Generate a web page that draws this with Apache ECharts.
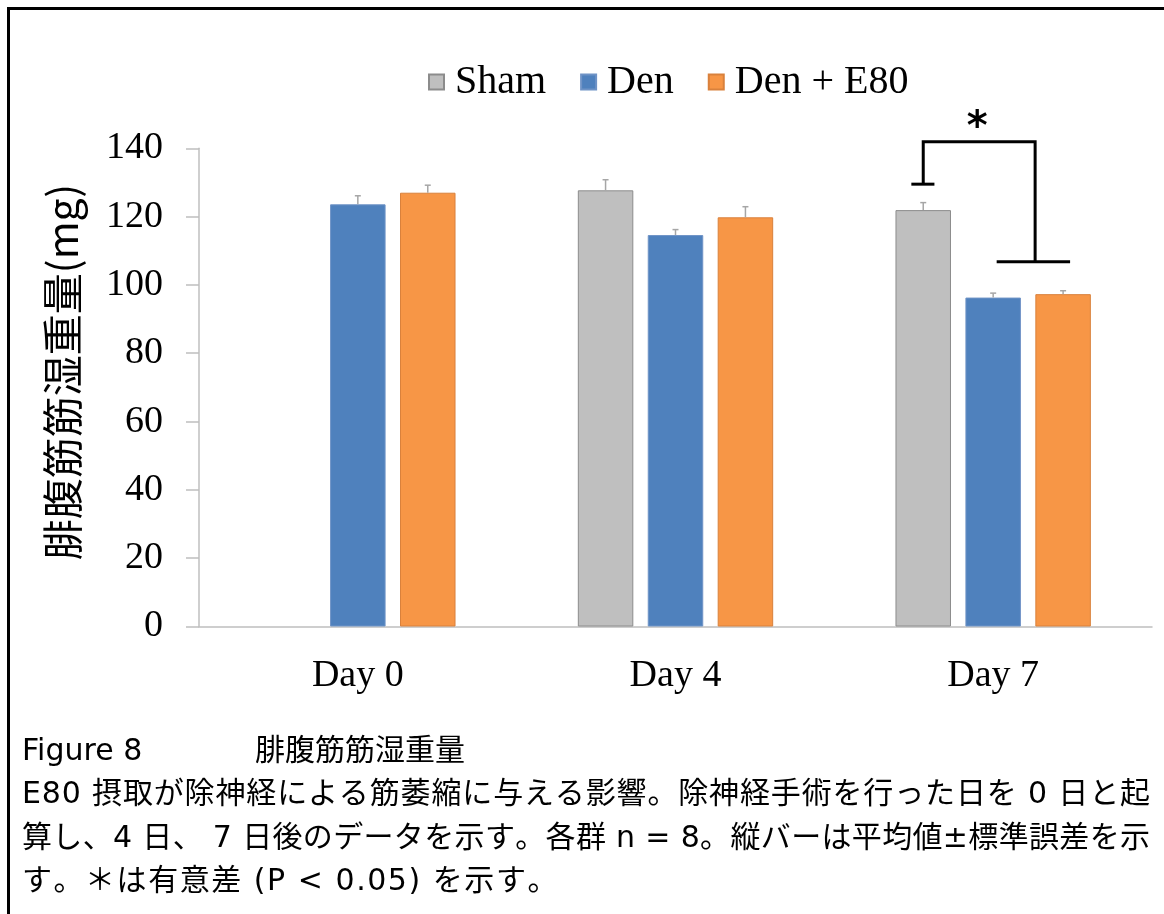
<!DOCTYPE html>
<html>
<head>
<meta charset="utf-8">
<script src="https://cdn.jsdelivr.net/npm/echarts@6/dist/echarts.min.js"></script>
<style>
  html, body { margin: 0; padding: 0; background: #fff; }
  #chart { width: 1164px; height: 914px; }
</style>
</head>
<body>
<div id="chart"></div>
<script>
// Gastrocnemius wet weight (mg), mean and SEM per group
const categories = ['Day 0', 'Day 4', 'Day 7'];
const seriesNames = ['Sham', 'Den', 'Den + E80'];
const shamMean = [null, 127.7, 121.9];
const shamSem  = [null, 3.1, 2.2];
const denMean  = [123.6, 114.6, 96.3];
const denSem   = [2.5, 1.6, 1.3];
const e80Mean  = [127.0, 119.8, 97.3];
const e80Sem   = [2.2, 3.1, 1.0];
const yTicks = { min: 0, max: 140, interval: 20 };

// significance bracket on Day 7: levels in mg
const bracketDay = 2;
const bracketLevels = { leftFoot: 129.5, top: 141.9, rightFoot: 106.8 };
const starLabel = '*';

const yAxisTitle = '腓腹筋筋湿重量(mg)';
const captionTitle = ['Figure 8', '腓腹筋筋湿重量'];
const captionBody = [
  'E80 摂取が除神経による筋萎縮に与える影響。除神経手術を行った日を 0 日と起',
  '算し、4 日、 7 日後のデータを示す。各群 n = 8。縦バーは平均値±標準誤差を示',
  'す。＊は有意差 (P < 0.05) を示す。'
];

const colors = ['#bfbfbf', '#4f81bd', '#f79646'];
const borders = ['#8c8c8c', '#6f93c6', '#d9813c'];
const CAT_GAP = 0.385, BAR_GAP = 0.26, NBARS = 3;
const serif = '"Liberation Serif", "Times New Roman", serif';
const capFont = '"DejaVu Sans", "Noto Sans CJK JP", sans-serif';
const capSize = 30;

// x pixel of a bar slot (0..2, may be fractional) inside a category
function slotX(api, cat, slot) {
  const band = api.size([1, 0])[0];
  const bw = band * (1 - CAT_GAP) / (NBARS + (NBARS - 1) * BAR_GAP);
  const step = bw * (1 + BAR_GAP);
  const c = api.coord([cat, 0])[0];
  return c + (slot - (NBARS - 1) / 2) * step;
}

function errorSeries(idx, means, sems) {
  const data = means.map((m, i) => [i, m, sems[i]]).filter(d => d[1] != null);
  return {
    type: 'custom',
    name: seriesNames[idx] + ' SEM',
    silent: true,
    z: 5,
    renderItem: function (params, api) {
      const cat = api.value(0), m = api.value(1), e = api.value(2);
      const x = slotX(api, cat, idx);
      const y0 = api.coord([cat, m])[1];
      const y1 = api.coord([cat, m + e])[1];
      const st = { stroke: '#a6a6a6', lineWidth: 1.5 };
      return {
        type: 'group',
        children: [
          { type: 'line', shape: { x1: x, y1: y0, x2: x, y2: y1 }, style: st },
          { type: 'line', shape: { x1: x - 3, y1: y1, x2: x + 3, y2: y1 }, style: st }
        ]
      };
    },
    data: data
  };
}

// caption: body lines are justified between the left and right text margins
const measureCtx = document.createElement('canvas').getContext('2d');
measureCtx.font = capSize + 'px ' + capFont;
function justifiedLine(text, x0, x1, yTop, extraOverride) {
  const chars = Array.from(text);
  const widths = chars.map(c => measureCtx.measureText(c).width);
  const natural = widths.reduce((a, b) => a + b, 0);
  const extra = extraOverride != null ? extraOverride : (x1 - x0 - natural) / (chars.length - 1);
  const els = [];
  let x = x0;
  chars.forEach((c, i) => {
    if (c !== ' ') {
      els.push({ type: 'text', x: x, y: yTop, silent: true,
        style: { text: c, font: capSize + 'px ' + capFont, fill: '#000' } });
    }
    x += widths[i] + extra;
  });
  return { els: els, extra: extra };
}

const capGraphics = [];
const titleY = 750 - 13;
capGraphics.push({ type: 'text', x: 22, y: titleY,
  style: { text: captionTitle[0], font: capSize + 'px ' + capFont, fill: '#000' } });
capGraphics.push({ type: 'text', x: 255, y: titleY,
  style: { text: captionTitle[1], font: capSize + 'px ' + capFont, fill: '#000' } });
const bodyY = [793, 837, 880];
const l1 = justifiedLine(captionBody[0], 22, 1150, bodyY[0] - 13);
const l2 = justifiedLine(captionBody[1], 22, 1150, bodyY[1] - 13);
const l3 = justifiedLine(captionBody[2], 22, 1150, bodyY[2] - 13, l2.extra + 1.2);
capGraphics.push.apply(capGraphics, l1.els.concat(l2.els, l3.els));

const chart = echarts.init(document.getElementById('chart'), null, { renderer: 'canvas' });

chart.setOption({
  animation: false,
  backgroundColor: '#fff',
  grid: { left: 199, right: 12, top: 148.3, bottom: 287.5, containLabel: false },
  legend: {
    data: seriesNames,
    left: 423, top: 57,
    itemWidth: 15, itemHeight: 15, itemGap: 34,
    icon: 'rect',
    textStyle: { fontFamily: serif, fontSize: 40, color: '#000', padding: [0, 0, 0, 6] }
  },
  xAxis: {
    type: 'category',
    data: categories,
    axisLine: { lineStyle: { color: '#bfbfbf', width: 1.5 } },
    axisTick: { show: false },
    axisLabel: { fontFamily: serif, fontSize: 38, color: '#000', margin: 31 }
  },
  yAxis: {
    type: 'value',
    min: yTicks.min, max: yTicks.max, interval: yTicks.interval,
    axisLine: { show: true, lineStyle: { color: '#bfbfbf', width: 1.5 } },
    axisTick: { show: true, length: 13, lineStyle: { color: '#bfbfbf', width: 1.5 } },
    splitLine: { show: false },
    axisLabel: { fontFamily: serif, fontSize: 38, color: '#000', margin: 36 }
  },
  series: [
    { name: 'Sham', type: 'bar', data: shamMean, barGap: (BAR_GAP * 100) + '%', barCategoryGap: (CAT_GAP * 100) + '%',
      itemStyle: { color: colors[0], borderColor: borders[0], borderWidth: 1 } },
    { name: 'Den', type: 'bar', data: denMean,
      itemStyle: { color: colors[1], borderColor: borders[1], borderWidth: 1 } },
    { name: 'Den + E80', type: 'bar', data: e80Mean,
      itemStyle: { color: colors[2], borderColor: borders[2], borderWidth: 1 } },
    errorSeries(0, shamMean, shamSem),
    errorSeries(1, denMean, denSem),
    errorSeries(2, e80Mean, e80Sem),
    {
      type: 'custom',
      name: 'significance',
      silent: true,
      z: 6,
      data: [[bracketDay, bracketLevels.leftFoot, bracketLevels.top, bracketLevels.rightFoot]],
      renderItem: function (params, api) {
        const d = api.value(0);
        const xL = slotX(api, d, 0);
        const xR = slotX(api, d, 1.6);
        const footL1 = slotX(api, d, -0.17), footL2 = slotX(api, d, 0.16);
        const footR1 = slotX(api, d, 1.05), footR2 = slotX(api, d, 2.1);
        const yL = api.coord([d, api.value(1)])[1];
        const yT = api.coord([d, api.value(2)])[1];
        const yR = api.coord([d, api.value(3)])[1];
        const st = { stroke: '#000', lineWidth: 3, fill: null };
        return {
          type: 'group',
          children: [
            { type: 'polyline', shape: { points: [[xL, yL], [xL, yT], [xR, yT], [xR, yR]] }, style: st },
            { type: 'line', shape: { x1: footL1, y1: yL, x2: footL2, y2: yL }, style: st },
            { type: 'line', shape: { x1: footR1, y1: yR, x2: footR2, y2: yR }, style: st },
            { type: 'text', x: (xL + xR) / 2 - 2, y: yT - 13,
              style: { text: starLabel, font: 'bold 40px ' + capFont, fill: '#000', align: 'center', verticalAlign: 'middle' } }
          ]
        };
      }
    }
  ],
  graphic: [
    { type: 'polyline', silent: true,
      shape: { points: [[8.5, 914], [8.5, 8.5], [1164, 8.5]] },
      style: { stroke: '#000', lineWidth: 3, fill: null } },
    { type: 'text', x: 62, y: 372, rotation: Math.PI / 2,
      style: { text: yAxisTitle, font: '41px "Noto Sans CJK JP", sans-serif', fill: '#000', align: 'center', verticalAlign: 'middle' } }
  ].concat(capGraphics)
});
</script>
</body>
</html>
